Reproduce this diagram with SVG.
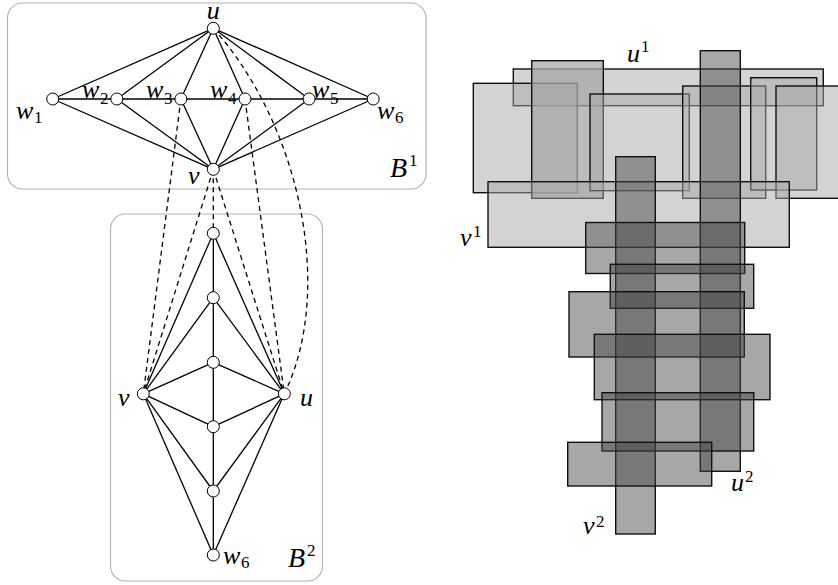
<svg xmlns="http://www.w3.org/2000/svg" width="838" height="585" viewBox="0 0 838 585">
<style>
.box{fill:none;stroke:#b3b3b3;stroke-width:1.2}
.e{stroke:#000;stroke-width:1.3;fill:none}
.d{stroke:#000;stroke-width:1.3;fill:none;stroke-dasharray:5,4}
.n{fill:#fff;stroke:#000;stroke-width:1}
text{font-family:'Liberation Serif','Times New Roman',serif;font-style:italic;font-size:26px;fill:#000}
.s{font-style:normal;font-size:17px}
.lt{fill:#a7a7a7;fill-opacity:0.5;stroke:#111;stroke-width:1.4}
.lt2{fill:#a7a7a7;fill-opacity:0.75;stroke:#111;stroke-width:1.4}
.dk{fill:#444;fill-opacity:0.47;stroke:#111;stroke-width:1.4}
</style>
<rect class="box" x="7.5" y="3" width="418.5" height="186" rx="15"/>
<rect class="box" x="110.5" y="214" width="212" height="367" rx="15"/>
<g id="connectors">
<g>
<line class="e" x1="52.7" y1="99" x2="373.2" y2="99"/>
<line class="e" x1="213.3" y1="28.3" x2="52.7" y2="99"/>
<line class="e" x1="213.3" y1="28.3" x2="116.8" y2="99"/>
<line class="e" x1="213.3" y1="28.3" x2="180.9" y2="99"/>
<line class="e" x1="213.3" y1="28.3" x2="245" y2="99"/>
<line class="e" x1="213.3" y1="28.3" x2="309.1" y2="99"/>
<line class="e" x1="213.3" y1="28.3" x2="373.2" y2="99"/>
<line class="e" x1="213.3" y1="169.3" x2="52.7" y2="99"/>
<line class="e" x1="213.3" y1="169.3" x2="116.8" y2="99"/>
<line class="e" x1="213.3" y1="169.3" x2="180.9" y2="99"/>
<line class="e" x1="213.3" y1="169.3" x2="245" y2="99"/>
<line class="e" x1="213.3" y1="169.3" x2="309.1" y2="99"/>
<line class="e" x1="213.3" y1="169.3" x2="373.2" y2="99"/>
</g>
<g>
<line class="e" x1="213.3" y1="233.3" x2="213.3" y2="555"/>
<line class="e" x1="143.3" y1="393.8" x2="213.3" y2="233.3"/>
<line class="e" x1="143.3" y1="393.8" x2="213.3" y2="297.7"/>
<line class="e" x1="143.3" y1="393.8" x2="213.3" y2="362.3"/>
<line class="e" x1="143.3" y1="393.8" x2="213.3" y2="426.7"/>
<line class="e" x1="143.3" y1="393.8" x2="213.3" y2="491"/>
<line class="e" x1="143.3" y1="393.8" x2="213.3" y2="555"/>
<line class="e" x1="284.3" y1="393.8" x2="213.3" y2="233.3"/>
<line class="e" x1="284.3" y1="393.8" x2="213.3" y2="297.7"/>
<line class="e" x1="284.3" y1="393.8" x2="213.3" y2="362.3"/>
<line class="e" x1="284.3" y1="393.8" x2="213.3" y2="426.7"/>
<line class="e" x1="284.3" y1="393.8" x2="213.3" y2="491"/>
<line class="e" x1="284.3" y1="393.8" x2="213.3" y2="555"/>
</g>
<g>
<line class="d" x1="180.9" y1="99" x2="143.3" y2="393.8"/>
<line class="d" x1="213.3" y1="169.3" x2="143.3" y2="393.8"/>
<line class="d" x1="213.3" y1="169.3" x2="213.3" y2="233.3"/>
<line class="d" x1="213.3" y1="169.3" x2="284.3" y2="393.8"/>
<line class="d" x1="245" y1="99" x2="284.3" y2="393.8"/>
<path class="d" d="M213.3,28.3 C300,125 335,290 284.3,393.8"/>
</g>
</g>
<g id="B1-u"><circle class="n" cx="213.3" cy="28.3" r="6"/><text x="213.3" y="19" text-anchor="middle">u</text></g>
<g id="B1-w1"><circle class="n" cx="52.7" cy="99" r="6"/><text x="16" y="119">w<tspan class="s" x="34" y="123">1</tspan></text></g>
<g id="B1-w2"><circle class="n" cx="116.8" cy="99" r="6"/><text x="82" y="98">w<tspan class="s" x="100" y="104">2</tspan></text></g>
<g id="B1-w3"><circle class="n" cx="180.9" cy="99" r="6"/><text x="146" y="98">w<tspan class="s" x="164" y="104">3</tspan></text></g>
<g id="B1-w4"><circle class="n" cx="245" cy="99" r="6"/><text x="210" y="98">w<tspan class="s" x="228" y="104">4</tspan></text></g>
<g id="B1-w5"><circle class="n" cx="309.1" cy="99" r="6"/><text x="312" y="98">w<tspan class="s" x="330" y="104">5</tspan></text></g>
<g id="B1-w6"><circle class="n" cx="373.2" cy="99" r="6"/><text x="377" y="119">w<tspan class="s" x="395" y="123">6</tspan></text></g>
<g id="B1-v"><circle class="n" cx="213.3" cy="169.3" r="6"/><text x="188" y="184">v</text></g>
<g id="B1-label"><text x="390" y="177" style="font-size:28px">B<tspan class="s" x="409" y="166">1</tspan></text></g>
<g id="B2-a"><circle class="n" cx="213.3" cy="233.3" r="6"/></g>
<g id="B2-b"><circle class="n" cx="213.3" cy="297.7" r="6"/></g>
<g id="B2-c"><circle class="n" cx="213.3" cy="362.3" r="6"/></g>
<g id="B2-d"><circle class="n" cx="213.3" cy="426.7" r="6"/></g>
<g id="B2-e"><circle class="n" cx="213.3" cy="491" r="6"/></g>
<g id="B2-w6"><circle class="n" cx="213.3" cy="555" r="6"/><text x="223" y="564">w<tspan class="s" x="241" y="568">6</tspan></text></g>
<g id="B2-v"><circle class="n" cx="143.3" cy="393.8" r="6"/><text x="118" y="406">v</text></g>
<g id="B2-u"><circle class="n" cx="284.3" cy="393.8" r="6"/><text x="300" y="406">u</text></g>
<g id="B2-label"><text x="288" y="567" style="font-size:28px">B<tspan class="s" x="307" y="556">2</tspan></text></g>
<g id="representation">
<rect class="lt" x="513.3" y="69" width="310" height="36.7"/>
<rect class="lt" x="473.3" y="83.3" width="104" height="109.4"/>
<rect class="lt2" x="531.7" y="60.7" width="71.6" height="137.6"/>
<rect class="lt" x="590" y="94" width="99.3" height="96.7"/>
<rect class="lt" x="682.7" y="86" width="83" height="112.3"/>
<rect class="lt" x="750.7" y="77.7" width="66" height="112.3"/>
<rect class="lt" x="776" y="86" width="70" height="112.3"/>
<rect class="lt" x="488" y="181.7" width="301.3" height="65.6"/>
<rect class="dk" x="700.3" y="50.7" width="40" height="420.6"/>
<rect class="dk" x="615.7" y="156.7" width="39.6" height="377.3"/>
<rect class="dk" x="585.7" y="222.5" width="159" height="51"/>
<rect class="dk" x="610.3" y="264.3" width="143.4" height="44"/>
<rect class="dk" x="569" y="291.7" width="175.3" height="65.3"/>
<rect class="dk" x="594.3" y="334.3" width="175.7" height="65.4"/>
<rect class="dk" x="602" y="392.7" width="151.7" height="58.3"/>
<rect class="dk" x="567.7" y="442.3" width="144" height="43.7"/>
<text x="627" y="62">u<tspan class="s" x="641" y="52">1</tspan></text>
<text x="460" y="246">v<tspan class="s" x="473" y="237">1</tspan></text>
<text x="731" y="491">u<tspan class="s" x="745" y="482">2</tspan></text>
<text x="583" y="534">v<tspan class="s" x="596" y="527">2</tspan></text>
</g>
</svg>
